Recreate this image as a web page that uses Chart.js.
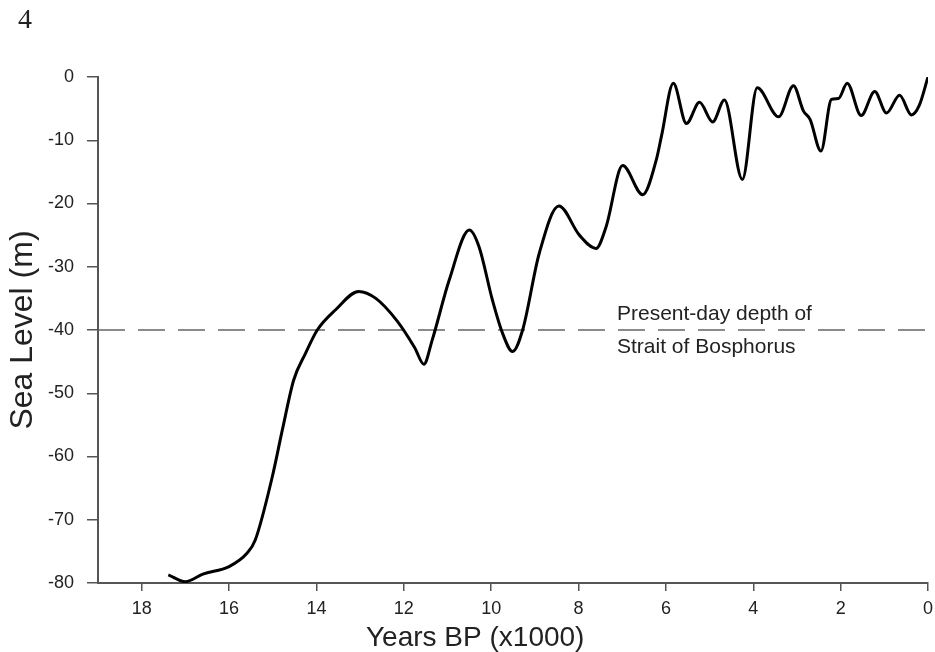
<!DOCTYPE html>
<html>
<head>
<meta charset="utf-8">
<script src="https://cdn.jsdelivr.net/npm/chart.js@4"></script>
<style>
  body { margin: 0; background: #fff; }
  #wrap { width: 935px; height: 652px; }
</style>
</head>
<body>
<div id="wrap"><canvas id="chart" width="935" height="652"></canvas></div>
<script>
// years before present (x1000) and sea level (m)
const years = [17.39, 17.0, 16.6, 16.0, 15.59, 15.4, 15.01, 14.78, 14.52, 14.25, 13.98, 13.56, 13.03, 12.64, 12.15, 11.75, 11.54,
  11.35, 10.96, 10.5, 10.28, 9.97, 9.74, 9.51, 9.28, 8.9, 8.45, 7.98, 7.6, 7.37, 6.99, 6.53, 6.22, 6.1, 5.83, 5.53,
  5.23, 4.93, 4.66, 4.25, 3.91, 3.42, 3.08, 2.85, 2.7, 2.45, 2.21, 2.05, 1.85, 1.53, 1.22, 0.95, 0.65, 0.38, 0.2, 0];
const seaLevel = [-78.7, -79.8, -78.6, -77.4, -75.3, -73.2, -63.2, -55.8, -47.9, -43.7, -40.0, -36.8, -33.9, -35.0, -38.6, -42.8, -45.4,
  -41.6, -32.1, -24.2, -26.8, -35.3, -40.5, -43.4, -40.0, -27.9, -20.4, -25.0, -27.1, -23.7, -14.0, -18.6, -13.1, -9.3, -1.0, -7.35,
  -4.0, -7.1, -3.65, -16.2, -1.7, -6.3, -1.4, -5.4, -6.7, -11.7, -3.55, -3.4, -1.0, -6.1, -2.3, -5.7, -2.9, -6.0, -4.5, 0];

const bosphorusDepth = -40;
const xRange = [0, 19];
const yRange = [-80, 0];
const noteLines = ['Present-day depth of', 'Strait of Bosphorus'];

const tickFont = { family: 'Liberation Sans, Arial, sans-serif', size: 18 };
const axisGrey = '#555';

// extra text: page number, x title and the Bosphorus note
const textPlugin = {
  id: 'extraText',
  afterDraw(chart) {
    const ctx = chart.ctx;
    ctx.save();
    ctx.fillStyle = '#222';
    ctx.textBaseline = 'alphabetic';
    ctx.textAlign = 'left';
    ctx.font = '28px "Liberation Serif", "Times New Roman", serif';
    ctx.fillText('4', 18, 28);
    ctx.font = '28px "Liberation Sans", Arial, sans-serif';
    ctx.fillText('Years BP (x1000)', 366, 646);
    ctx.font = '21px "Liberation Sans", Arial, sans-serif';
    ctx.fillText(noteLines[0], 617, 320);
    ctx.fillText(noteLines[1], 617, 353);
    ctx.restore();
  }
};

new Chart(document.getElementById('chart'), {
  type: 'line',
  data: {
    datasets: [
      {
        label: 'Sea level',
        data: years.map((x, i) => ({ x, y: seaLevel[i] })),
        borderColor: '#000',
        borderWidth: 3,
        pointRadius: 0,
        cubicInterpolationMode: 'monotone',
        fill: false,
      },
      {
        label: 'Bosphorus depth',
        data: [{ x: xRange[1], y: bosphorusDepth }, { x: xRange[0], y: bosphorusDepth }],
        borderColor: '#666',
        borderWidth: 1.5,
        borderDash: [27, 13],
        pointRadius: 0,
        fill: false,
      },
    ],
  },
  options: {
    responsive: false,
    animation: false,
    layout: { padding: { top: 77, right: 7, left: 0, bottom: 0 } },
    plugins: { legend: { display: false }, tooltip: { enabled: false } },
    scales: {
      x: {
        type: 'linear',
        reverse: true,
        min: xRange[0],
        max: xRange[1],
        ticks: { stepSize: 2, includeBounds: false, padding: 7, color: '#222', font: tickFont },
        grid: { drawOnChartArea: false, drawTicks: true, tickLength: 8, color: axisGrey, lineWidth: 1.5 },
        border: { display: true, color: axisGrey, width: 2 },
        afterFit: (s) => { s.height = 69; s.paddingRight = 0; s.paddingLeft = 0; },
      },
      y: {
        min: yRange[0],
        max: yRange[1],
        ticks: { stepSize: 10, padding: 13, color: '#222', font: tickFont },
        grid: { drawOnChartArea: false, drawTicks: true, tickLength: 11, color: axisGrey, lineWidth: 1.5 },
        border: { display: true, color: axisGrey, width: 2 },
        title: {
          display: true,
          text: 'Sea Level (m)',
          color: '#222',
          font: { family: 'Liberation Sans, Arial, sans-serif', size: 32 },
          padding: { top: 4, bottom: 0 },
        },
        afterFit: (s) => { s.width = 98; s.paddingTop = 0; s.paddingBottom = 0; },
      },
    },
  },
  plugins: [textPlugin],
});
</script>
</body>
</html>
